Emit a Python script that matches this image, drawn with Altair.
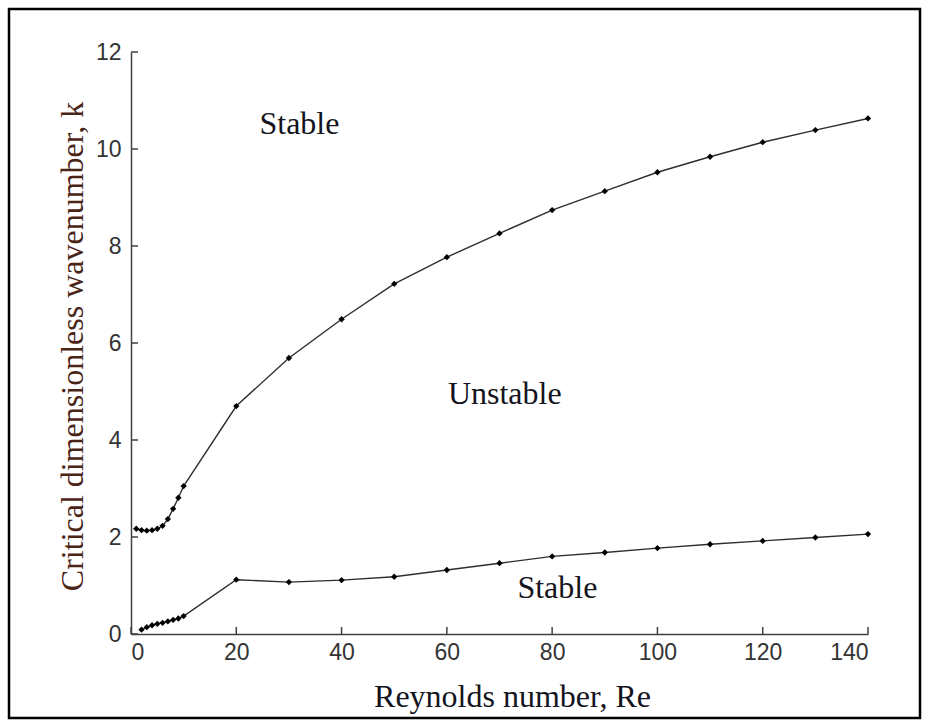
import altair as alt
import pandas as pd

# Critical wavenumber boundaries (upper and lower branch) vs Reynolds number
re_upper = [1, 2, 3, 4, 5, 6, 7, 8, 9, 10, 20, 30, 40, 50, 60, 70, 80, 90, 100, 110, 120, 130, 140]
k_upper = [2.17, 2.14, 2.13, 2.14, 2.17, 2.23, 2.37, 2.58, 2.81, 3.05, 4.70, 5.69, 6.49, 7.22,
           7.77, 8.26, 8.74, 9.13, 9.52, 9.84, 10.14, 10.39, 10.63]

re_lower = [2, 3, 4, 5, 6, 7, 8, 9, 10, 20, 30, 40, 50, 60, 70, 80, 90, 100, 110, 120, 130, 140]
k_lower = [0.09, 0.14, 0.18, 0.21, 0.23, 0.26, 0.29, 0.32, 0.37, 1.12, 1.07, 1.11, 1.18, 1.32,
           1.46, 1.60, 1.68, 1.77, 1.85, 1.92, 1.99, 2.06]

x_ticks = [0, 20, 40, 60, 80, 100, 120, 140]
y_ticks = [0, 2, 4, 6, 8, 10, 12]

region_labels = ["Stable", "Unstable", "Stable"]
region_re = [32, 71, 81]
region_k = [10.3, 4.74, 0.74]

W, H = 737, 582
SERIF = "Liberation Serif"
TICK_FONT = "Liberation Sans Narrow, Liberation Sans, Arial"

curves = pd.concat([
    pd.DataFrame({"Re": re_upper, "k": k_upper, "branch": "upper"}),
    pd.DataFrame({"Re": re_lower, "k": k_lower, "branch": "lower"}),
])
labels = pd.DataFrame({"Re": region_re, "k": region_k, "text": region_labels})
xt = pd.DataFrame({"v": x_ticks})
yt = pd.DataFrame({"v": y_ticks})

x_scale = alt.Scale(domain=[0, 140], nice=False, zero=False)
y_scale = alt.Scale(domain=[0, 12], nice=False, zero=False)

x_enc = alt.X("Re:Q", scale=x_scale, axis=alt.Axis(
    values=x_ticks, title="Reynolds number, Re", titleX=381, titleY=72,
    titleBaseline="alphabetic", titleAlign="center"))
y_enc = alt.Y("k:Q", scale=y_scale, axis=alt.Axis(
    values=y_ticks, title="Critical dimensionless wavenumber, k", titleAngle=270,
    titleX=-49, titleY=294, titleBaseline="alphabetic", titleAlign="center",
    titleColor="#4b2418"))

base = alt.Chart(curves)

lines = base.mark_line(color="#2e2e2e", strokeWidth=1.4).encode(
    x=x_enc, y=y_enc, detail="branch:N")

points = base.mark_point(shape="diamond", filled=True, color="#000000", size=40, opacity=1).encode(
    x="Re:Q", y="k:Q")

text = alt.Chart(labels).mark_text(
    font=SERIF, fontSize=32, color="#141420", align="center", baseline="alphabetic"
).encode(x="Re:Q", y="k:Q", text="text:N")

# inward-facing tick marks
x_tick_marks = alt.Chart(xt).mark_rule(color="#404040", strokeWidth=1.5).encode(
    x=alt.X("v:Q", scale=x_scale), y=alt.value(H), y2=alt.value(H - 7))
y_tick_marks = alt.Chart(yt).mark_rule(color="#404040", strokeWidth=1.5).encode(
    y=alt.Y("v:Q", scale=y_scale), x=alt.value(0), x2=alt.value(7))

# outer border around the figure
frame = alt.Chart(pd.DataFrame({"f": [0]})).mark_rect(
    fillOpacity=0, stroke="#000000", strokeWidth=2.5, clip=False
).encode(x=alt.value(-122), x2=alt.value(789), y=alt.value(-43), y2=alt.value(666))

chart = alt.layer(frame, lines, points, x_tick_marks, y_tick_marks, text).properties(
    width=W, height=H,
    padding={"left": 131, "top": 52, "right": 61, "bottom": 93},
    autosize="none",
    background="#ffffff",
).configure_view(stroke=None).configure_axis(
    grid=False, ticks=False, domainColor="#404040", domainWidth=1.5,
    labelFont=TICK_FONT, labelFontSize=23, labelColor="#333333",
    titleFont=SERIF, titleFontSize=32, titleFontWeight="normal", titleColor="#141420",
).configure_axisX(labelPadding=7).configure_axisY(labelPadding=10)

chart.save("out.html", embed_options={"renderer": "svg", "actions": False})
